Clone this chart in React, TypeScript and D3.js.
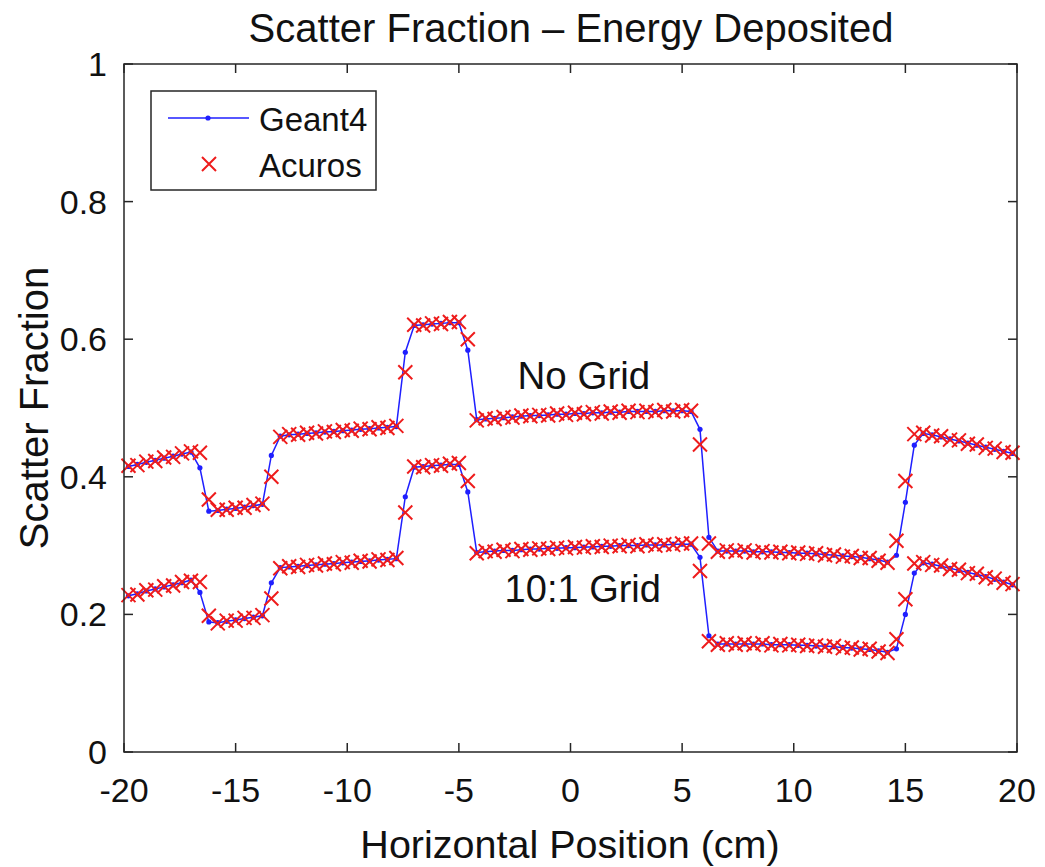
import React from 'react';
import * as d3 from 'd3';

// horizontal positions (cm), shared by both codes
const positions = [
  -19.8, -19.4, -19.0, -18.6, -18.2, -17.8, -17.4, -17.0, -16.6, -16.2,
  -15.8, -15.4, -15.0, -14.6, -14.2, -13.8, -13.4, -13.0, -12.6, -12.2,
  -11.8, -11.4, -11.0, -10.6, -10.2, -9.8, -9.4, -9.0, -8.6, -8.2,
  -7.8, -7.4, -7.0, -6.6, -6.2, -5.8, -5.4, -5.0, -4.6, -4.2,
  -3.8, -3.4, -3.0, -2.6, -2.2, -1.8, -1.4, -1.0, -0.6, -0.2,
  0.2, 0.6, 1.0, 1.4, 1.8, 2.2, 2.6, 3.0, 3.4, 3.8,
  4.2, 4.6, 5.0, 5.4, 5.8, 6.2, 6.6, 7.0, 7.4, 7.8,
  8.2, 8.6, 9.0, 9.4, 9.8, 10.2, 10.6, 11.0, 11.4, 11.8,
  12.2, 12.6, 13.0, 13.4, 13.8, 14.2, 14.6, 15.0, 15.4, 15.8,
  16.2, 16.6, 17.0, 17.4, 17.8, 18.2, 18.6, 19.0, 19.4, 19.8,
];

const geantNoGrid = [
  0.415, 0.418, 0.421, 0.424, 0.427, 0.430, 0.433, 0.436, 0.413, 0.350,
  0.351, 0.353, 0.354, 0.356, 0.358, 0.360, 0.431, 0.459, 0.461, 0.462,
  0.463, 0.464, 0.465, 0.466, 0.467, 0.468, 0.469, 0.470, 0.471, 0.472,
  0.473, 0.581, 0.620, 0.621, 0.622, 0.623, 0.624, 0.624, 0.584, 0.483,
  0.484, 0.485, 0.486, 0.487, 0.488, 0.489, 0.489, 0.490, 0.491, 0.491,
  0.492, 0.492, 0.493, 0.493, 0.494, 0.494, 0.495, 0.495, 0.495, 0.495,
  0.496, 0.496, 0.496, 0.495, 0.469, 0.312, 0.292, 0.292, 0.292, 0.292,
  0.291, 0.291, 0.291, 0.290, 0.290, 0.289, 0.289, 0.288, 0.287, 0.286,
  0.285, 0.284, 0.283, 0.281, 0.279, 0.276, 0.286, 0.363, 0.446, 0.463,
  0.461, 0.458, 0.455, 0.452, 0.449, 0.446, 0.443, 0.440, 0.437, 0.434,
];

const acurosNoGrid = [
  0.416, 0.417, 0.422, 0.423, 0.428, 0.429, 0.434, 0.437, 0.435, 0.367,
  0.352, 0.352, 0.355, 0.355, 0.359, 0.361, 0.400, 0.458, 0.462, 0.461,
  0.464, 0.463, 0.466, 0.465, 0.468, 0.467, 0.470, 0.469, 0.472, 0.471,
  0.474, 0.552, 0.621, 0.620, 0.623, 0.622, 0.625, 0.625, 0.600, 0.482,
  0.485, 0.484, 0.487, 0.486, 0.489, 0.488, 0.490, 0.489, 0.492, 0.490,
  0.493, 0.491, 0.494, 0.492, 0.495, 0.493, 0.496, 0.494, 0.496, 0.494,
  0.497, 0.495, 0.497, 0.496, 0.447, 0.303, 0.291, 0.293, 0.291, 0.293,
  0.290, 0.292, 0.290, 0.291, 0.289, 0.290, 0.288, 0.289, 0.286, 0.287,
  0.284, 0.285, 0.282, 0.282, 0.278, 0.275, 0.307, 0.394, 0.462, 0.464,
  0.460, 0.459, 0.454, 0.453, 0.448, 0.447, 0.442, 0.441, 0.436, 0.435,
];

const geantGrid = [
  0.227, 0.230, 0.234, 0.237, 0.240, 0.243, 0.246, 0.250, 0.232, 0.189,
  0.188, 0.190, 0.192, 0.194, 0.196, 0.198, 0.246, 0.268, 0.269, 0.270,
  0.271, 0.272, 0.273, 0.274, 0.275, 0.276, 0.277, 0.278, 0.279, 0.280,
  0.281, 0.371, 0.414, 0.415, 0.416, 0.417, 0.418, 0.418, 0.378, 0.290,
  0.291, 0.292, 0.293, 0.293, 0.294, 0.295, 0.295, 0.296, 0.296, 0.297,
  0.297, 0.298, 0.298, 0.299, 0.299, 0.300, 0.300, 0.300, 0.301, 0.301,
  0.301, 0.302, 0.302, 0.302, 0.283, 0.169, 0.157, 0.157, 0.157, 0.157,
  0.157, 0.157, 0.156, 0.156, 0.156, 0.155, 0.155, 0.154, 0.154, 0.153,
  0.152, 0.151, 0.150, 0.149, 0.147, 0.145, 0.150, 0.200, 0.260, 0.275,
  0.273, 0.270, 0.267, 0.264, 0.261, 0.258, 0.255, 0.251, 0.247, 0.243,
];

const acurosGrid = [
  0.228, 0.229, 0.235, 0.236, 0.241, 0.242, 0.247, 0.249, 0.247, 0.198,
  0.187, 0.191, 0.191, 0.195, 0.195, 0.199, 0.223, 0.267, 0.270, 0.269,
  0.272, 0.271, 0.274, 0.273, 0.276, 0.275, 0.278, 0.277, 0.280, 0.279,
  0.282, 0.348, 0.415, 0.414, 0.417, 0.416, 0.419, 0.420, 0.394, 0.289,
  0.292, 0.291, 0.294, 0.292, 0.295, 0.294, 0.296, 0.295, 0.297, 0.296,
  0.298, 0.297, 0.299, 0.298, 0.300, 0.299, 0.301, 0.299, 0.302, 0.300,
  0.302, 0.301, 0.303, 0.303, 0.263, 0.161, 0.156, 0.158, 0.156, 0.158,
  0.156, 0.158, 0.155, 0.157, 0.155, 0.156, 0.154, 0.155, 0.153, 0.154,
  0.151, 0.152, 0.149, 0.150, 0.146, 0.144, 0.164, 0.222, 0.274, 0.276,
  0.272, 0.271, 0.266, 0.265, 0.260, 0.259, 0.254, 0.252, 0.246, 0.244,
];

const xTicks = [-20, -15, -10, -5, 0, 5, 10, 15, 20];
const yTicks = [0, 0.2, 0.4, 0.6, 0.8, 1];
const yTickLabels = ['0', '0.2', '0.4', '0.6', '0.8', '1'];

const W = 1045;
const H = 867;
const m = { left: 124, right: 1017, top: 64, bottom: 752 };
const FONT = 'Arial, "Liberation Sans", Helvetica, sans-serif';
const BLUE = '#1f1fff';
const RED = '#ee1c1c';
const AXIS = '#262626';

const x = d3.scaleLinear().domain([-20, 20]).range([m.left, m.right]);
const y = d3.scaleLinear().domain([0, 1]).range([m.bottom, m.top]);

const line = d3
  .line<number>()
  .x((_, i) => x(positions[i]))
  .y((d) => y(d));

const Cross = ({ cx, cy, s = 7 }: { cx: number; cy: number; s?: number }) => (
  <path
    d={`M${cx - s},${cy - s}L${cx + s},${cy + s}M${cx - s},${cy + s}L${cx + s},${cy - s}`}
    stroke={RED}
    strokeWidth={2}
    fill="none"
  />
);

const GeantSeries = ({ values }: { values: number[] }) => (
  <g>
    <path d={line(values) || ''} fill="none" stroke={BLUE} strokeWidth={1.5} />
    {values.map((v, i) => (
      <circle key={i} cx={x(positions[i])} cy={y(v)} r={2.6} fill={BLUE} />
    ))}
  </g>
);

const AcurosSeries = ({ values }: { values: number[] }) => (
  <g>
    {values.map((v, i) => (
      <Cross key={i} cx={x(positions[i])} cy={y(v)} />
    ))}
  </g>
);

export default function App() {
  const tickLen = 9;
  return (
    <svg
      width={W}
      height={H}
      style={{ position: 'absolute', left: 0, top: 0, background: '#fff' }}
      fontFamily={FONT}
    >
      <rect width={W} height={H} fill="#fff" />

      {/* title */}
      <text x={571} y={42} textAnchor="middle" fontSize={40} fill="#111">
        Scatter Fraction – Energy Deposited
      </text>

      {/* data */}
      <GeantSeries values={geantNoGrid} />
      <GeantSeries values={geantGrid} />
      <AcurosSeries values={acurosNoGrid} />
      <AcurosSeries values={acurosGrid} />

      {/* curve labels */}
      <text x={x(0.6)} y={y(0.528)} textAnchor="middle" fontSize={38.5} fill="#111">
        No Grid
      </text>
      <text x={x(0.55)} y={y(0.218)} textAnchor="middle" fontSize={38} fill="#111">
        10:1 Grid
      </text>

      {/* axes box */}
      <rect
        x={m.left}
        y={m.top}
        width={m.right - m.left}
        height={m.bottom - m.top}
        fill="none"
        stroke={AXIS}
        strokeWidth={1.5}
      />
      {xTicks.map((t) => (
        <g key={t}>
          <line x1={x(t)} x2={x(t)} y1={m.bottom} y2={m.bottom - tickLen} stroke={AXIS} strokeWidth={1.5} />
          <line x1={x(t)} x2={x(t)} y1={m.top} y2={m.top + tickLen} stroke={AXIS} strokeWidth={1.5} />
          <text x={x(t)} y={802} textAnchor="middle" fontSize={34} fill="#111">
            {t}
          </text>
        </g>
      ))}
      {yTicks.map((t, i) => (
        <g key={t}>
          <line x1={m.left} x2={m.left + tickLen} y1={y(t)} y2={y(t)} stroke={AXIS} strokeWidth={1.5} />
          <line x1={m.right} x2={m.right - tickLen} y1={y(t)} y2={y(t)} stroke={AXIS} strokeWidth={1.5} />
          <text x={107} y={y(t) + 12} textAnchor="end" fontSize={34} fill="#111">
            {yTickLabels[i]}
          </text>
        </g>
      ))}

      {/* axis labels */}
      <text x={570} y={858} textAnchor="middle" fontSize={39.5} fill="#111">
        Horizontal Position (cm)
      </text>
      <text
        transform={`translate(48,${(m.top + m.bottom) / 2}) rotate(-90)`}
        textAnchor="middle"
        fontSize={40}
        fill="#111"
      >
        Scatter Fraction
      </text>

      {/* legend */}
      <g>
        <rect x={151} y={91} width={225} height={99} fill="#fff" stroke={AXIS} strokeWidth={1.5} />
        <line x1={168} x2={249} y1={118} y2={118} stroke={BLUE} strokeWidth={1.5} />
        <circle cx={208} cy={118} r={2.6} fill={BLUE} />
        <text x={259} y={131} fontSize={33} fill="#111">
          Geant4
        </text>
        <Cross cx={209} cy={164} />
        <text x={259} y={177} fontSize={33} fill="#111">
          Acuros
        </text>
      </g>
    </svg>
  );
}
